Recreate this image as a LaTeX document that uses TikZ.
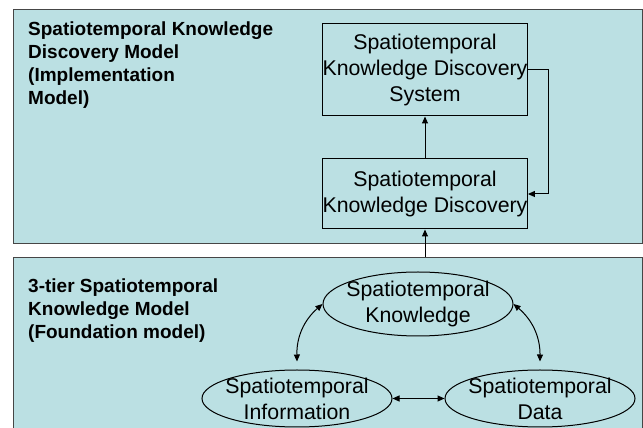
\documentclass[tikz,border=0pt]{standalone}
\usepackage{fontspec}
\setmainfont{Liberation Sans}
\usetikzlibrary{arrows.meta,shapes.geometric}
\definecolor{panelfill}{RGB}{187,224,227}
\definecolor{panelline}{RGB}{70,70,70}
\begin{document}
\begin{tikzpicture}[x=1pt,y=1pt,
  panel/.style={fill=panelfill,draw=panelline,line width=1.2pt,anchor=north west,inner sep=0pt},
  title/.style={font=\bfseries\fontsize{19}{23}\selectfont,align=left,anchor=north west,inner sep=0pt},
  stbox/.style={draw=black,line width=1pt,minimum width=204pt,inner sep=0pt,align=center,font=\fontsize{21.3}{26}\selectfont},
  stell/.style={ellipse,draw=black,line width=1pt,inner xsep=-9pt,inner ysep=-8pt,minimum width=190pt,align=center,font=\fontsize{21.3}{26}\selectfont},
  arr/.style={-{Triangle[length=7pt,width=6pt]},line width=1pt},
  darr/.style={{Triangle[length=7pt,width=6pt]}-{Triangle[length=7pt,width=6pt]},line width=1pt}]
\useasboundingbox (0,0) rectangle (643,428);
\fill[white] (0,0) rectangle (643,428);
% panels
\node[panel,minimum width=629pt,minimum height=234pt] (toppanel) at (13,419) {};
\node[panel,minimum width=629pt,minimum height=185pt] (botpanel) at (13,171) {};
% titles
\node[title] (toptitle) at (28,406) {Spatiotemporal Knowledge\\Discovery Model\\(Implementation\\Model)};
\node[title] (bottitle) at (28,149.5) {3-tier Spatiotemporal\\Knowledge Model\\(Foundation model)};
% boxes
\node[stbox,minimum height=92pt] (sys) at (425,358) {Spatiotemporal\\Knowledge Discovery\\System};
\node[stbox,minimum height=70pt] (disc) at (425,234) {Spatiotemporal\\Knowledge Discovery};
% ellipses
\node[stell,minimum height=64pt] (know) at (418,124) {Spatiotemporal\\Knowledge};
\node[stell,minimum height=57pt] (info) at (297,29.5) {Spatiotemporal\\Information};
\node[stell,minimum height=57pt] (data) at (540,29.5) {Spatiotemporal\\Data};
% connectors
\coordinate (botin) at (425,171);
\draw[arr] (botin) -- (disc.south);
\draw[arr] (disc.north) -- (sys.south);
\draw[arr] (sys.east) -- ++(21,0) |- (disc.east);
\draw[darr] (know.west) to[bend right=25] ([yshift=8pt]info.north);
\draw[darr] (know.east) to[bend left=25] ([yshift=8pt]data.north);
\draw[darr] (info.east) -- (data.west);
\end{tikzpicture}
\end{document}
